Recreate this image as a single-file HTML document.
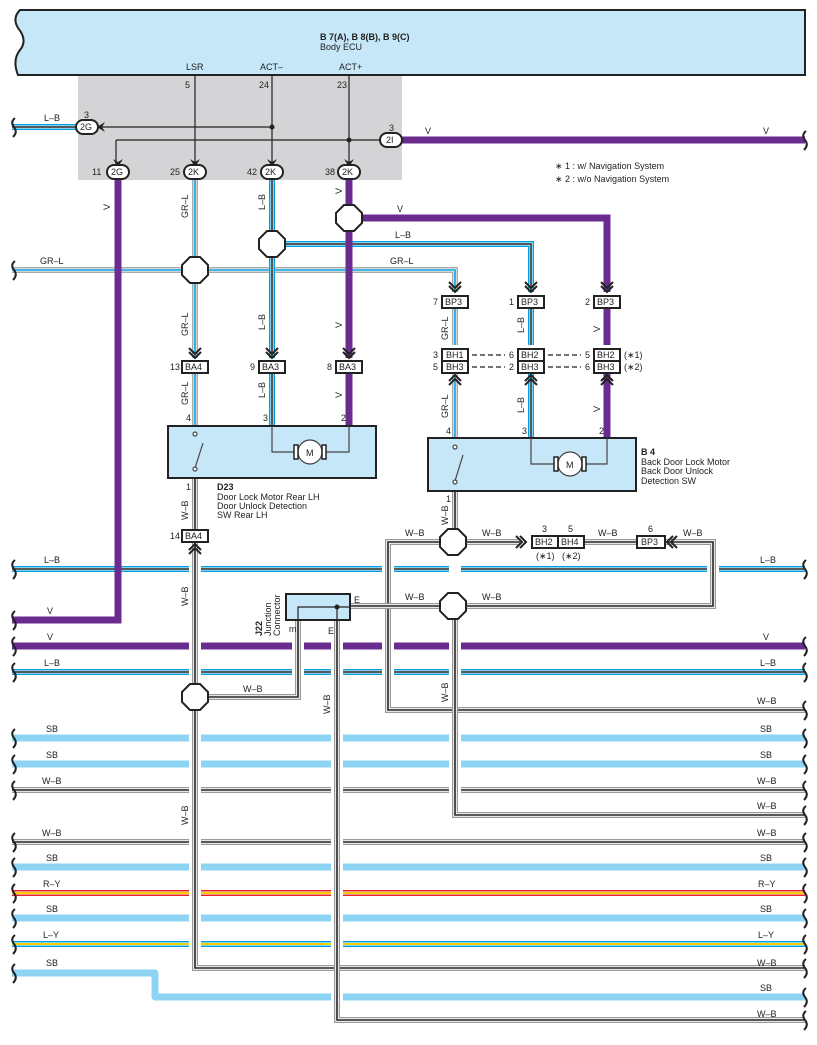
<!DOCTYPE html>
<html><head><meta charset="utf-8"><style>
html,body{margin:0;padding:0;background:#fff}
svg{display:block}
text{font-family:"Liberation Sans",sans-serif;font-size:9px;fill:#222}
.b{font-weight:bold}
</style></head><body>
<svg width="817" height="1045" viewBox="0 0 817 1045" xmlns="http://www.w3.org/2000/svg">
<defs>
<path id="lb1" d="M12 127H76"/>
<path id="v1" d="M402 140H805"/>
<path id="v2" d="M118 180V620H12"/>
<path id="grl1" d="M12 270H455V292"/>
<path id="grl2" d="M195 180V358"/>
<path id="lb2" d="M272 180V358"/>
<path id="v3" d="M349 180V358"/>
<path id="v4" d="M349 218H607V292"/>
<path id="lb3" d="M272 244H531V292"/>
<path id="grl3" d="M195 374V426M455 309V345M455 374V438"/>
<path id="lb4" d="M272 374V426M531 309V345M531 374V438"/>
<path id="v5" d="M349 374V426M607 309V345M607 374V438"/>
<path id="wb1" d="M195 478V530"/>
<path id="wb2" d="M195 543V968H805"/>
<path id="wb3" d="M455 491V542"/>
<path id="wb4" d="M455 542H520"/>
<path id="wb5" d="M455 542H388V710H805"/>
<path id="wb6" d="M585 542H638"/>
<path id="wb7" d="M665 542H713V606H350"/>
<path id="wb8" d="M455 606V815H805"/>
<path id="wb9" d="M298 620V697H195"/>
<path id="wb10" d="M337 620V1020H805"/>
<path id="wbb1" d="M12 790H805"/>
<path id="wbb2" d="M12 842H805"/>
<path id="lbb1" d="M12 569H805"/>
<path id="lbb2" d="M12 672H805"/>
</defs>

<!-- ECU -->
<rect x="78" y="75" width="324" height="105" fill="#d4d4d6"/>
<path d="M805 10V75H18Q12 60 20 50Q28 40 18 28Q12 18 20 10Z" fill="#c5e7f8" stroke="#222" stroke-width="2"/>
<text x="320" y="40" class="b">B 7(A), B 8(B), B 9(C)</text>
<text x="320" y="50">Body ECU</text>
<text x="186" y="70">LSR</text><text x="260" y="70">ACT–</text><text x="339" y="70">ACT+</text>
<text x="185" y="88">5</text><text x="259" y="88">24</text><text x="337" y="88">23</text>
<g stroke="#222" stroke-width="1.2" fill="none">
<path d="M195 75V165M272 75V165M349 75V165"/>
<path d="M100 127H272M116 140H385M116 140V165"/>
</g>
<circle cx="272" cy="127" r="2.5" fill="#222"/><circle cx="349" cy="140" r="2.5" fill="#222"/>
<g fill="#222">
<path d="M97 127l8-5-3 5 3 5z"/><path d="M388 140l-8-5 3 5-3 5z"/>
<path d="M118 167l-5-8 5 3 5-3z"/><path d="M195 167l-5-8 5 3 5-3z"/><path d="M272 167l-5-8 5 3 5-3z"/><path d="M349 167l-5-8 5 3 5-3z"/>
</g>

<!-- horizontal buses -->
<g fill="none">
<use href="#lb1" stroke="#00a0e0" stroke-width="6"/><use href="#lb1" stroke="#fff" stroke-width="3"/><use href="#lb1" stroke="#222" stroke-width="1.5"/>
<use href="#v1" stroke="#6b2c8f" stroke-width="7"/>
<use href="#lbb1" stroke="#00a0e0" stroke-width="6"/><use href="#lbb1" stroke="#fff" stroke-width="3"/><use href="#lbb1" stroke="#222" stroke-width="1.5"/>
<path d="M12 646H805" stroke="#6b2c8f" stroke-width="7"/>
<use href="#lbb2" stroke="#00a0e0" stroke-width="6"/><use href="#lbb2" stroke="#fff" stroke-width="3"/><use href="#lbb2" stroke="#222" stroke-width="1.5"/>
<path d="M12 738H805M12 764H805M12 867H805M12 918H805" stroke="#8dd4f4" stroke-width="7"/>
<use href="#wbb1" stroke="#999" stroke-width="6"/><use href="#wbb1" stroke="#fff" stroke-width="3.5"/><use href="#wbb1" stroke="#222" stroke-width="1.6"/>
<use href="#wbb2" stroke="#999" stroke-width="6"/><use href="#wbb2" stroke="#fff" stroke-width="3.5"/><use href="#wbb2" stroke="#222" stroke-width="1.6"/>
<path d="M12 893H805" stroke="#e8202a" stroke-width="6"/><path d="M12 893H805" stroke="#fff" stroke-width="3"/><path d="M12 893H805" stroke="#f5d000" stroke-width="2"/>
<path d="M12 944H805" stroke="#00a0e0" stroke-width="6"/><path d="M12 944H805" stroke="#fff" stroke-width="3"/><path d="M12 944H805" stroke="#f5d000" stroke-width="2"/>
<path d="M12 973H155V997H805" stroke="#8dd4f4" stroke-width="7" stroke-linejoin="round"/>
<use href="#grl1" stroke="#aaa" stroke-width="6"/><use href="#grl1" stroke="#fff" stroke-width="3"/><use href="#grl1" stroke="#00a0e0" stroke-width="1.6"/>
<use href="#v4" stroke="#6b2c8f" stroke-width="7"/>
<use href="#lb3" stroke="#00a0e0" stroke-width="6"/><use href="#lb3" stroke="#fff" stroke-width="3"/><use href="#lb3" stroke="#222" stroke-width="1.5"/>
</g>

<!-- verticals with white halos -->
<g fill="none">
<path d="M195 543V968M388 560V710M455 560V815M713 550V606M298 625V697M337 625V1020" stroke="#fff" stroke-width="12"/>
<use href="#v2" stroke="#6b2c8f" stroke-width="7"/>
<use href="#grl2" stroke="#aaa" stroke-width="6"/><use href="#grl2" stroke="#fff" stroke-width="3"/><use href="#grl2" stroke="#00a0e0" stroke-width="1.6"/>
<use href="#grl3" stroke="#aaa" stroke-width="6"/><use href="#grl3" stroke="#fff" stroke-width="3"/><use href="#grl3" stroke="#00a0e0" stroke-width="1.6"/>
<use href="#lb2" stroke="#00a0e0" stroke-width="6"/><use href="#lb2" stroke="#fff" stroke-width="3"/><use href="#lb2" stroke="#222" stroke-width="1.5"/>
<use href="#lb4" stroke="#00a0e0" stroke-width="6"/><use href="#lb4" stroke="#fff" stroke-width="3"/><use href="#lb4" stroke="#222" stroke-width="1.5"/>
<use href="#v3" stroke="#6b2c8f" stroke-width="7"/>
<use href="#v5" stroke="#6b2c8f" stroke-width="7"/>
<g stroke-linejoin="miter">
<use href="#wb1" stroke="#999" stroke-width="6"/><use href="#wb1" stroke="#fff" stroke-width="3.5"/><use href="#wb1" stroke="#222" stroke-width="1.6"/>
<use href="#wb2" stroke="#999" stroke-width="6"/><use href="#wb2" stroke="#fff" stroke-width="3.5"/><use href="#wb2" stroke="#222" stroke-width="1.6"/>
<use href="#wb3" stroke="#999" stroke-width="6"/><use href="#wb3" stroke="#fff" stroke-width="3.5"/><use href="#wb3" stroke="#222" stroke-width="1.6"/>
<use href="#wb4" stroke="#999" stroke-width="6"/><use href="#wb4" stroke="#fff" stroke-width="3.5"/><use href="#wb4" stroke="#222" stroke-width="1.6"/>
<use href="#wb5" stroke="#999" stroke-width="6"/><use href="#wb5" stroke="#fff" stroke-width="3.5"/><use href="#wb5" stroke="#222" stroke-width="1.6"/>
<use href="#wb6" stroke="#999" stroke-width="6"/><use href="#wb6" stroke="#fff" stroke-width="3.5"/><use href="#wb6" stroke="#222" stroke-width="1.6"/>
<use href="#wb7" stroke="#999" stroke-width="6"/><use href="#wb7" stroke="#fff" stroke-width="3.5"/><use href="#wb7" stroke="#222" stroke-width="1.6"/>
<use href="#wb8" stroke="#999" stroke-width="6"/><use href="#wb8" stroke="#fff" stroke-width="3.5"/><use href="#wb8" stroke="#222" stroke-width="1.6"/>
<use href="#wb9" stroke="#999" stroke-width="6"/><use href="#wb9" stroke="#fff" stroke-width="3.5"/><use href="#wb9" stroke="#222" stroke-width="1.6"/>
<use href="#wb10" stroke="#999" stroke-width="6"/><use href="#wb10" stroke="#fff" stroke-width="3.5"/><use href="#wb10" stroke="#222" stroke-width="1.6"/>
</g>
</g>

<!-- ovals -->
<g stroke="#222" stroke-width="2" fill="#fff">
<rect x="76" y="120" width="22" height="14" rx="7"/><rect x="380" y="133" width="22" height="14" rx="7"/>
<rect x="107" y="165" width="22" height="14" rx="7"/><rect x="184" y="165" width="22" height="14" rx="7"/>
<rect x="261" y="165" width="22" height="14" rx="7"/><rect x="338" y="165" width="22" height="14" rx="7"/>
</g>
<text x="80" y="130">2G</text><text x="386" y="143">2I</text>
<text x="111" y="175">2G</text><text x="188" y="175">2K</text><text x="265" y="175">2K</text><text x="342" y="175">2K</text>
<text x="84" y="118">3</text><text x="389" y="131">3</text>
<text x="92" y="175">11</text><text x="170" y="175">25</text><text x="247" y="175">42</text><text x="325" y="175">38</text>

<!-- octagons -->
<g stroke="#222" stroke-width="2" fill="#fff">
<polygon points="190,257 200,257 208,265 208,275 200,283 190,283 182,275 182,265"/>
<polygon points="267,231 277,231 285,239 285,249 277,257 267,257 259,249 259,239"/>
<polygon points="344,205 354,205 362,213 362,223 354,231 344,231 336,223 336,213"/>
<polygon points="190,684 200,684 208,692 208,702 200,710 190,710 182,702 182,692"/>
<polygon points="448,529 458,529 466,537 466,547 458,555 448,555 440,547 440,537"/>
<polygon points="448,593 458,593 466,601 466,611 458,619 448,619 440,611 440,601"/>
</g>

<!-- chevrons -->
<g stroke="#222" stroke-width="2" fill="none">
<path d="M189 348l6 6 6-6M189 352l6 6 6-6"/><path d="M266 348l6 6 6-6M266 352l6 6 6-6"/><path d="M343 348l6 6 6-6M343 352l6 6 6-6"/>
<path d="M449 282l6 6 6-6M449 286l6 6 6-6"/><path d="M525 282l6 6 6-6M525 286l6 6 6-6"/><path d="M601 282l6 6 6-6M601 286l6 6 6-6"/>
<path d="M449 385l6-6 6 6M449 381l6-6 6 6"/><path d="M525 385l6-6 6 6M525 381l6-6 6 6"/><path d="M601 385l6-6 6 6M601 381l6-6 6 6"/>
<path d="M189 554l6-6 6 6M189 550l6-6 6 6"/>
<path d="M516 536l6 6-6 6M520 536l6 6-6 6"/>
<path d="M677 536l-6 6 6 6M673 536l-6 6 6 6"/>
</g>

<!-- terminal boxes -->
<g stroke="#222" stroke-width="2" fill="#fff">
<rect x="182" y="361" width="26" height="12"/><rect x="259" y="361" width="26" height="12"/><rect x="336" y="361" width="26" height="12"/>
<rect x="442" y="296" width="26" height="12"/><rect x="518" y="296" width="26" height="12"/><rect x="594" y="296" width="26" height="12"/>
<rect x="442" y="349" width="26" height="12"/><rect x="442" y="361" width="26" height="12"/>
<rect x="518" y="349" width="26" height="12"/><rect x="518" y="361" width="26" height="12"/>
<rect x="594" y="349" width="26" height="12"/><rect x="594" y="361" width="26" height="12"/>
<rect x="182" y="530" width="26" height="12"/>
<rect x="532" y="536" width="26" height="12"/><rect x="558" y="536" width="26" height="12"/>
<rect x="637" y="536" width="28" height="12"/>
</g>
<g>
<text x="185" y="370">BA4</text><text x="262" y="370">BA3</text><text x="339" y="370">BA3</text>
<text x="170" y="370">13</text><text x="250" y="370">9</text><text x="327" y="370">8</text>
<text x="445" y="305">BP3</text><text x="521" y="305">BP3</text><text x="597" y="305">BP3</text>
<text x="433" y="305">7</text><text x="509" y="305">1</text><text x="585" y="305">2</text>
<text x="446" y="358">BH1</text><text x="446" y="370">BH3</text>
<text x="521" y="358">BH2</text><text x="521" y="370">BH3</text>
<text x="597" y="358">BH2</text><text x="597" y="370">BH3</text>
<text x="433" y="358">3</text><text x="433" y="370">5</text>
<text x="509" y="358">6</text><text x="509" y="370">2</text>
<text x="585" y="358">5</text><text x="585" y="370">6</text>
<text x="624" y="358">(∗1)</text><text x="624" y="370">(∗2)</text>
<text x="185" y="539">BA4</text><text x="170" y="539">14</text>
<text x="535" y="545">BH2</text><text x="561" y="545">BH4</text><text x="641" y="545">BP3</text>
<text x="542" y="532">3</text><text x="568" y="532">5</text><text x="648" y="532">6</text>
<text x="536" y="559">(∗1)</text><text x="562" y="559">(∗2)</text>
</g>
<g stroke="#222" stroke-width="1.2" stroke-dasharray="5,3">
<path d="M472 355H505M472 367H505M548 355H581M548 367H581"/>
</g>

<!-- D23 -->
<rect x="168" y="426" width="208" height="52" fill="#c5e7f8" stroke="#222" stroke-width="2"/>
<g stroke="#444" stroke-width="1.2" fill="none">
<path d="M272 426V452H294M349 426V452H326"/>
<circle cx="310" cy="452" r="12" fill="#fff"/>
<rect x="294" y="445" width="4" height="14" fill="#fff" stroke="#222" stroke-width="1.5"/><rect x="322" y="445" width="4" height="14" fill="#fff" stroke="#222" stroke-width="1.5"/>
<path d="M195 468L203 443"/>
<circle cx="195" cy="434" r="2" fill="#fff"/><circle cx="195" cy="469" r="2" fill="#fff"/>
</g>
<text x="306" y="456">M</text>
<text x="186" y="421">4</text><text x="263" y="421">3</text><text x="341" y="421">2</text>
<text x="186" y="490">1</text>
<text x="217" y="490" class="b">D23</text>
<text x="217" y="500">Door Lock Motor Rear LH</text>
<text x="217" y="509">Door Unlock Detection</text>
<text x="217" y="518">SW Rear LH</text>

<!-- B4 -->
<rect x="428" y="438" width="208" height="53" fill="#c5e7f8" stroke="#222" stroke-width="2"/>
<g stroke="#444" stroke-width="1.2" fill="none">
<path d="M531 438V464H554M607 438V464H586"/>
<circle cx="570" cy="464" r="12" fill="#fff"/>
<rect x="554" y="457" width="4" height="14" fill="#fff" stroke="#222" stroke-width="1.5"/><rect x="582" y="457" width="4" height="14" fill="#fff" stroke="#222" stroke-width="1.5"/>
<path d="M455 481L463 455"/>
<circle cx="455" cy="447" r="2" fill="#fff"/><circle cx="455" cy="482" r="2" fill="#fff"/>
</g>
<text x="566" y="468">M</text>
<text x="446" y="434">4</text><text x="522" y="434">3</text><text x="599" y="434">2</text>
<text x="446" y="502">1</text>
<text x="641" y="455" class="b">B 4</text>
<text x="641" y="465">Back Door Lock Motor</text>
<text x="641" y="474">Back Door Unlock</text>
<text x="641" y="484">Detection SW</text>

<!-- J22 -->
<rect x="286" y="594" width="64" height="26" fill="#c5e7f8" stroke="#222" stroke-width="2"/>
<path d="M298 620V607H337V620M337 607H350" stroke="#222" stroke-width="1.2" fill="none"/>
<circle cx="337" cy="607" r="2.5" fill="#222"/>
<text x="354" y="603">E</text><text x="289" y="632">m</text><text x="328" y="634">E</text>
<g transform="translate(262,636) rotate(-90)"><text class="b">J22</text></g>
<g transform="translate(271,636) rotate(-90)"><text>Junction</text></g>
<g transform="translate(280,636) rotate(-90)"><text>Connector</text></g>

<!-- notes -->
<text x="555" y="169">∗ 1 : w/ Navigation System</text>
<text x="555" y="182">∗ 2 : w/o Navigation System</text>

<!-- wire labels horizontal -->
<g>
<text x="44" y="121">L–B</text><text x="425" y="134">V</text><text x="763" y="134">V</text>
<text x="40" y="264">GR–L</text><text x="390" y="264">GR–L</text>
<text x="395" y="238">L–B</text><text x="397" y="212">V</text>
<text x="44" y="563">L–B</text><text x="760" y="563">L–B</text>
<text x="47" y="614">V</text>
<text x="47" y="640">V</text><text x="763" y="640">V</text>
<text x="44" y="666">L–B</text><text x="760" y="666">L–B</text>
<text x="757" y="704">W–B</text>
<text x="46" y="732">SB</text><text x="760" y="732">SB</text>
<text x="46" y="758">SB</text><text x="760" y="758">SB</text>
<text x="42" y="784">W–B</text><text x="757" y="784">W–B</text>
<text x="757" y="809">W–B</text>
<text x="42" y="836">W–B</text><text x="757" y="836">W–B</text>
<text x="46" y="861">SB</text><text x="760" y="861">SB</text>
<text x="43" y="887">R–Y</text><text x="758" y="887">R–Y</text>
<text x="46" y="912">SB</text><text x="760" y="912">SB</text>
<text x="43" y="938">L–Y</text><text x="758" y="938">L–Y</text>
<text x="46" y="966">SB</text><text x="757" y="966">W–B</text>
<text x="760" y="991">SB</text>
<text x="757" y="1017">W–B</text>
<text x="405" y="536">W–B</text><text x="482" y="536">W–B</text><text x="598" y="536">W–B</text><text x="683" y="536">W–B</text>
<text x="405" y="600">W–B</text><text x="482" y="600">W–B</text>
<text x="243" y="692">W–B</text>
</g>
<!-- vertical labels -->
<g>
<g transform="translate(110,210) rotate(-90)"><text>V</text></g>
<g transform="translate(188,218) rotate(-90)"><text>GR–L</text></g>
<g transform="translate(265,210) rotate(-90)"><text>L–B</text></g>
<g transform="translate(342,194) rotate(-90)"><text>V</text></g>
<g transform="translate(188,336) rotate(-90)"><text>GR–L</text></g>
<g transform="translate(265,330) rotate(-90)"><text>L–B</text></g>
<g transform="translate(342,328) rotate(-90)"><text>V</text></g>
<g transform="translate(188,405) rotate(-90)"><text>GR–L</text></g>
<g transform="translate(265,398) rotate(-90)"><text>L–B</text></g>
<g transform="translate(342,398) rotate(-90)"><text>V</text></g>
<g transform="translate(448,340) rotate(-90)"><text>GR–L</text></g>
<g transform="translate(524,333) rotate(-90)"><text>L–B</text></g>
<g transform="translate(600,332) rotate(-90)"><text>V</text></g>
<g transform="translate(448,418) rotate(-90)"><text>GR–L</text></g>
<g transform="translate(524,413) rotate(-90)"><text>L–B</text></g>
<g transform="translate(600,412) rotate(-90)"><text>V</text></g>
<g transform="translate(188,520) rotate(-90)"><text>W–B</text></g>
<g transform="translate(448,525) rotate(-90)"><text>W–B</text></g>
<g transform="translate(188,606) rotate(-90)"><text>W–B</text></g>
<g transform="translate(448,702) rotate(-90)"><text>W–B</text></g>
<g transform="translate(330,714) rotate(-90)"><text>W–B</text></g>
<g transform="translate(188,825) rotate(-90)"><text>W–B</text></g>
</g>

<!-- wavy ends -->
<g stroke="#222" stroke-width="2" fill="none">
<path d="M15 118q-5 4 -1 9q4 5 -1 10"/>
<path d="M15 261q-5 4 -1 9q4 5 -1 10"/>
<path d="M15 560q-5 4 -1 9q4 5 -1 10"/>
<path d="M15 611q-5 4 -1 9q4 5 -1 10"/>
<path d="M15 637q-5 4 -1 9q4 5 -1 10"/>
<path d="M15 663q-5 4 -1 9q4 5 -1 10"/>
<path d="M15 729q-5 4 -1 9q4 5 -1 10"/>
<path d="M15 755q-5 4 -1 9q4 5 -1 10"/>
<path d="M15 781q-5 4 -1 9q4 5 -1 10"/>
<path d="M15 833q-5 4 -1 9q4 5 -1 10"/>
<path d="M15 858q-5 4 -1 9q4 5 -1 10"/>
<path d="M15 884q-5 4 -1 9q4 5 -1 10"/>
<path d="M15 909q-5 4 -1 9q4 5 -1 10"/>
<path d="M15 935q-5 4 -1 9q4 5 -1 10"/>
<path d="M15 964q-5 4 -1 9q4 5 -1 10"/>
<path d="M806 131q-5 4 -1 9q4 5 -1 10"/>
<path d="M806 560q-5 4 -1 9q4 5 -1 10"/>
<path d="M806 637q-5 4 -1 9q4 5 -1 10"/>
<path d="M806 663q-5 4 -1 9q4 5 -1 10"/>
<path d="M806 701q-5 4 -1 9q4 5 -1 10"/>
<path d="M806 729q-5 4 -1 9q4 5 -1 10"/>
<path d="M806 755q-5 4 -1 9q4 5 -1 10"/>
<path d="M806 781q-5 4 -1 9q4 5 -1 10"/>
<path d="M806 806q-5 4 -1 9q4 5 -1 10"/>
<path d="M806 833q-5 4 -1 9q4 5 -1 10"/>
<path d="M806 858q-5 4 -1 9q4 5 -1 10"/>
<path d="M806 884q-5 4 -1 9q4 5 -1 10"/>
<path d="M806 909q-5 4 -1 9q4 5 -1 10"/>
<path d="M806 935q-5 4 -1 9q4 5 -1 10"/>
<path d="M806 959q-5 4 -1 9q4 5 -1 10"/>
<path d="M806 988q-5 4 -1 9q4 5 -1 10"/>
<path d="M806 1011q-5 4 -1 9q4 5 -1 10"/>
</g>
</svg>
</body></html>
